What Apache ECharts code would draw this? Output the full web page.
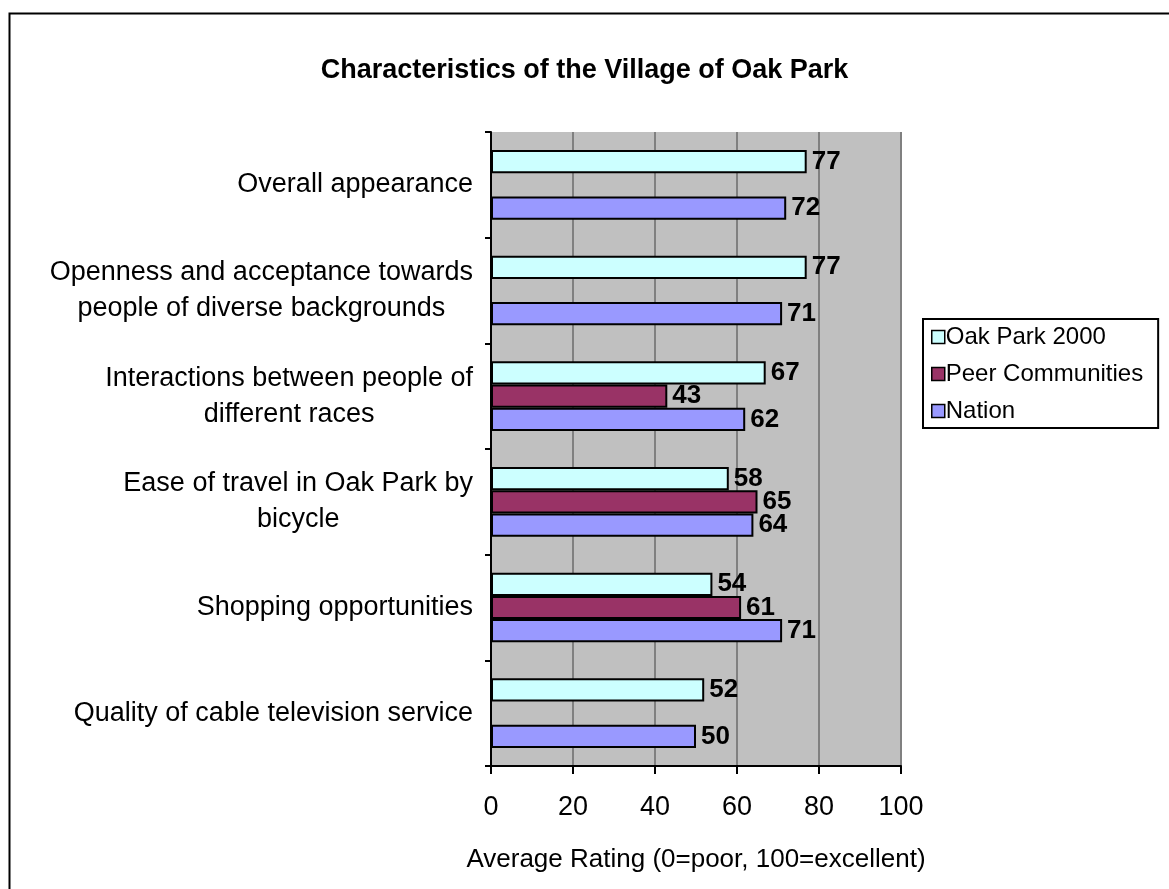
<!DOCTYPE html>
<html style="height: 100%">
<head>
    <meta charset="utf-8">
</head>
<body style="height: 100%; margin: 0; background: #fff">
<div id="container" style="width: 1169px; height: 889px"></div>
<script type="text/javascript" src="https://cdn.jsdelivr.net/npm/echarts@6/dist/echarts.min.js"></script>
<script type="text/javascript">
    // categories, top to bottom
    var categories = [
        'Overall appearance',
        'Openness and acceptance towards\npeople of diverse backgrounds',
        'Interactions between people of\ndifferent races',
        'Ease of travel in Oak Park by\nbicycle',
        'Shopping opportunities',
        'Quality of cable television service'
    ];
    // series values (null = no data)
    var oakPark2000 = [77, 77, 67, 58, 54, 52];
    var peerCommunities = [null, null, 43, 65, 61, null];
    var nation = [72, 71, 62, 64, 71, 50];
    var seriesNames = ['Oak Park 2000', 'Peer Communities', 'Nation'];
    var seriesColors = ['#CCFFFF', '#993366', '#9999FF'];

    var font = 'Arial, "Liberation Sans", sans-serif';
    var dom = document.getElementById('container');
    var myChart = echarts.init(dom, null, {renderer: 'canvas'});

    function makeSeries(name, data, color) {
        return {
            type: 'bar',
            name: name,
            data: data,
            barGap: '0%',
            barCategoryGap: '34%',
            animation: false,
            itemStyle: {
                color: color,
                borderColor: '#000',
                borderWidth: 2
            },
            label: {
                show: true,
                position: 'right',
                distance: 5,
                color: '#000',
                fontFamily: font,
                fontWeight: 'bold',
                fontSize: 26
            }
        };
    }

    var option = {
        backgroundColor: '#fff',
        title: {
            text: 'Characteristics of the Village of Oak Park',
            left: 'center',
            top: 52,
            textStyle: {
                fontFamily: font,
                fontWeight: 'bold',
                fontSize: 27,
                color: '#000'
            }
        },
        legend: {
            orient: 'vertical',
            left: 923,
            top: 319,
            data: seriesNames,
            icon: 'rect',
            itemWidth: 13,
            itemHeight: 13,
            itemGap: 13,
            padding: [6, 15, 5, 8],
            borderColor: '#000',
            borderWidth: 2,
            itemStyle: {borderColor: '#000', borderWidth: 1.5},
            textStyle: {
                fontFamily: font,
                fontSize: 24,
                lineHeight: 24,
                color: '#000',
                padding: [0, 0, 0, -4]
            }
        },
        grid: {
            left: 491,
            right: 268,
            top: 132,
            bottom: 123,
            show: true,
            backgroundColor: '#C0C0C0',
            borderWidth: 0
        },
        xAxis: {
            type: 'value',
            min: 0,
            max: 100,
            interval: 20,
            name: 'Average Rating (0=poor, 100=excellent)',
            nameLocation: 'middle',
            nameGap: 81,
            nameTextStyle: {
                fontFamily: font,
                fontSize: 26,
                color: '#000'
            },
            axisLine: {show: true, lineStyle: {color: '#000', width: 2}},
            axisTick: {show: true, length: 8, lineStyle: {color: '#000', width: 2}},
            axisLabel: {
                margin: 28,
                fontFamily: font,
                fontSize: 27,
                color: '#000'
            },
            splitLine: {show: true, lineStyle: {color: '#808080', width: 2}}
        },
        yAxis: {
            type: 'category',
            data: categories,
            inverse: true,
            axisLine: {show: true, lineStyle: {color: '#000', width: 2}},
            axisTick: {show: true, length: 6, lineStyle: {color: '#000', width: 2}},
            axisLabel: {
                margin: 18,
                align: 'right',
                formatter: function (value) {
                    return value.split('\n').map(function (s) {
                        return '{c|' + s + '}';
                    }).join('\n');
                },
                rich: {
                    c: {
                        align: 'center',
                        fontFamily: font,
                        fontSize: 27,
                        lineHeight: 36,
                        color: '#000'
                    }
                }
            }
        },
        series: [
            makeSeries(seriesNames[0], oakPark2000, seriesColors[0]),
            makeSeries(seriesNames[1], peerCommunities, seriesColors[1]),
            makeSeries(seriesNames[2], nation, seriesColors[2])
        ],
        graphic: [{
            type: 'rect',
            left: 7,
            top: 11,
            shape: {width: 1200, height: 900},
            style: {fill: null, stroke: '#000', lineWidth: 2},
            silent: true
        }]
    };
    myChart.setOption(option, true);
</script>
</body>
</html>
